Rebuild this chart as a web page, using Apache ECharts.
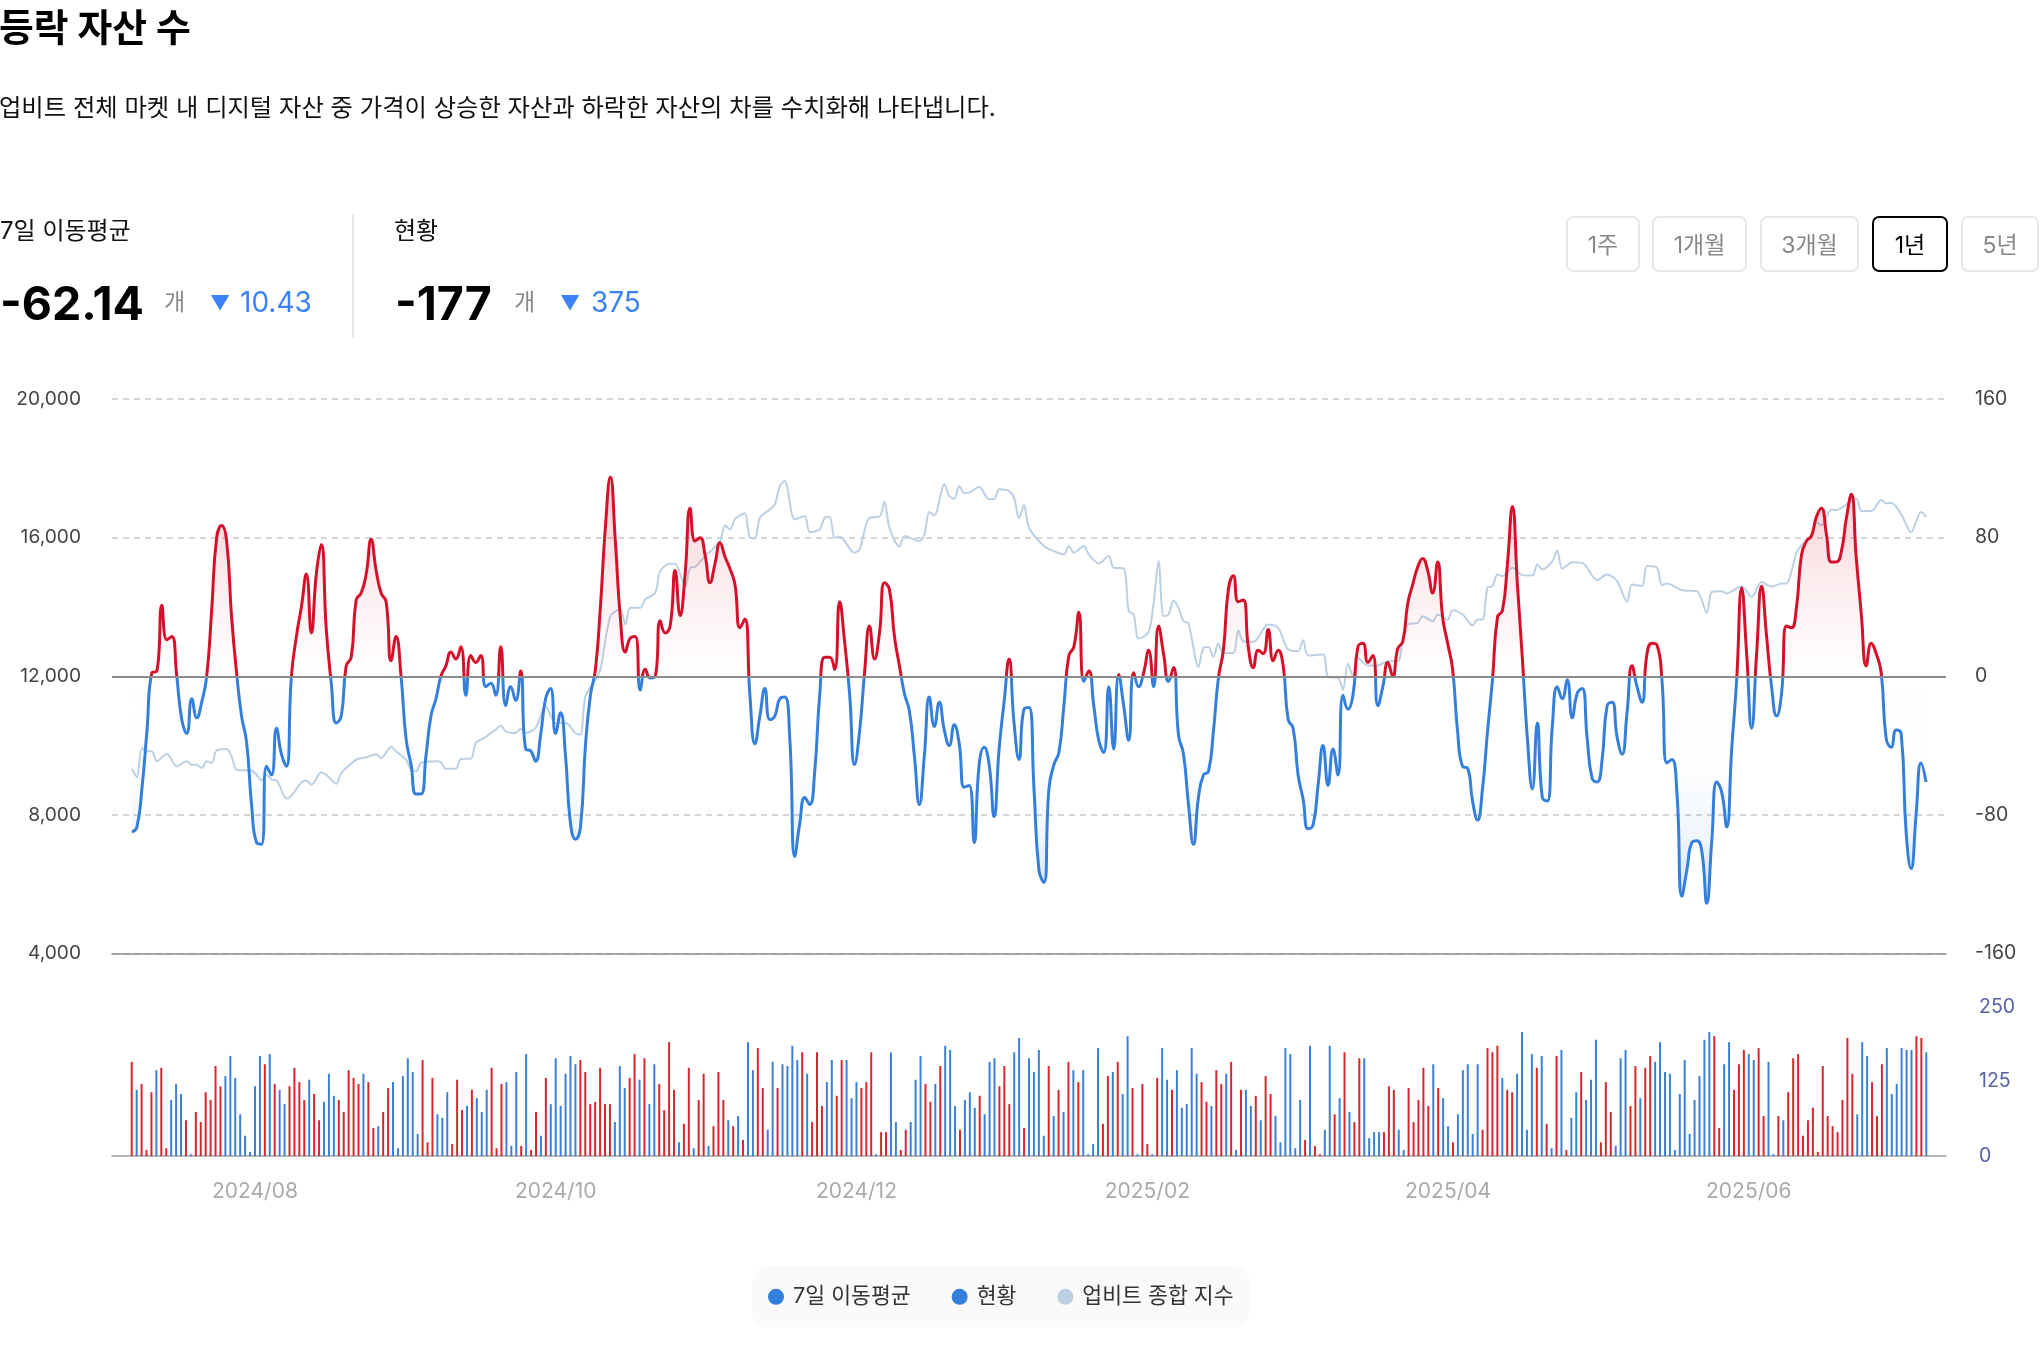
<!DOCTYPE html>
<html>
<head lang="ko">
    <meta charset="UTF-8">
    <title>등락 자산 수</title>
    <script src="https://cdn.jsdelivr.net/npm/echarts@6/dist/echarts.min.js"></script>
    <style>
        html, body { margin: 0; padding: 0; background: #fff; width: 2040px; height: 1358px; overflow: hidden; }
        body { font-family: Inter, "Noto Sans CJK KR", sans-serif; color: #000; position: relative; }
        #chart { position: absolute; left: 0; top: 0; width: 2040px; height: 1358px; }
        .t { position: absolute; white-space: nowrap; line-height: 1; z-index: 2; }
        #title { left: -1px; top: 9px; font-size: 37.8px; font-weight: 700; }
        #desc { left: -1px; top: 95px; font-size: 24.3px; color: #111; }
        .label { top: 219px; font-size: 24px; color: #111; }
        .big { top: 280px; font-size: 46.5px; font-weight: 700; }
        .unit { top: 291px; font-size: 23px; color: #888; }
        .tri { top: 293px; font-size: 20px; color: #3b82f6; }
        .diff { top: 288px; font-size: 28px; color: #3b82f6; }
        #divider { position: absolute; left: 352px; top: 214px; width: 2px; height: 124px; background: #e6e6e6; }
        .btn { position: absolute; top: 216px; height: 56px; box-sizing: border-box; border: 2px solid #e8e8e8; border-radius: 7px; padding-bottom: 3px;
               font-size: 23px; color: #888; display: flex; align-items: center; justify-content: center; z-index: 2; }
        .btn.on { border-color: #000; color: #000; }
    </style>
</head>
<body>
<div class="t" id="title">등락 자산 수</div>
<div class="t" id="desc">업비트 전체 마켓 내 디지털 자산 중 가격이 상승한 자산과 하락한 자산의 차를 수치화해 나타냅니다.</div>

<div class="t label" style="left:0">7일 이동평균</div>
<div class="t big" style="left:0">-62.14</div>
<div class="t unit" style="left:164px">개</div>
<div class="t tri" style="left:210px">▼</div>
<div class="t diff" style="left:240px">10.43</div>
<div id="divider"></div>
<div class="t label" style="left:394px">현황</div>
<div class="t big" style="left:395px">-177</div>
<div class="t unit" style="left:514px">개</div>
<div class="t tri" style="left:560px">▼</div>
<div class="t diff" style="left:591px">375</div>

<div class="btn" style="left:1566px;width:74px">1주</div>
<div class="btn" style="left:1652px;width:95px">1개월</div>
<div class="btn" style="left:1760px;width:99px">3개월</div>
<div class="btn on" style="left:1872px;width:76px">1년</div>
<div class="btn" style="left:1961px;width:78px">5년</div>

<div id="chart"></div>

<script type="text/javascript">
    var seriesNames = ['7일 이동평균', '현황', '업비트 종합 지수'];

    // 7일 이동평균 at even steps along the year (right axis)
    var avgValues = [
        -90,-87,-65,-32,2,3,41,21,23,0,
        -25,-33,-13,-24,-15,0,38,80,87,78,
        34,2,-23,-38,-74,-96,-97,-52,-57,-30,
        -45,-52,0,23,40,59,25,59,76,27,
        -4,-27,-23,6,11,44,48,59,79,61,
        48,43,9,23,0,-36,-51,-68,-68,-46,
        -23,-13,0,6,14,10,17,-11,12,8,
        12,-6,-4,-11,17,-17,-6,-14,3,-42,
        -43,-49,-34,-13,-7,-33,-21,-46,-85,-94,
        -87,-40,-11,4,40,86,115,78,34,14,
        22,23,-8,4,-1,0,32,25,29,61,
        35,59,97,78,80,70,54,65,77,69,
        62,53,28,33,-11,-39,-23,-7,-25,-23,
        -13,-12,-36,-104,-85,-70,-74,-55,-11,11,
        11,4,43,20,-10,-51,-32,2,29,10,
        25,54,50,23,6,-10,-20,-46,-74,-46,
        -12,-29,-15,-31,-40,-28,-39,-64,-63,-96,
        -51,-41,-51,-81,-42,-15,10,-27,-48,-19,
        -18,-65,-112,-119,-65,-51,-44,-17,12,17,
        37,-3,3,-17,-37,-44,-6,-42,1,-17,
        -37,2,-6,2,15,-6,29,13,-3,5,
        -34,-45,-74,-97,-70,-57,-55,-32,-1,15,
        50,58,43,44,17,5,15,13,27,9,
        15,6,-25,-30,-57,-71,-88,-86,-63,-40,
        -63,-42,-57,-11,-19,-11,17,19,8,12,
        -17,-6,8,0,16,20,42,53,63,68,
        61,48,66,34,19,4,-32,-52,-53,-72,
        -83,-65,-32,-2,34,38,65,98,53,10,
        -36,-65,-27,-70,-72,-29,-6,-13,-2,-24,
        -10,-7,-36,-59,-61,-48,-17,-15,-35,-45,
        -21,6,-6,-15,13,19,18,-2,-50,-48,
        -67,-127,-112,-96,-95,-101,-131,-95,-61,-67,
        -87,-42,-2,51,13,-30,13,52,23,-6,
        -23,-10,29,28,40,70,78,81,92,97,
        82,66,66,72,91,105,68,36,6,19,
        13,2,-36,-41,-31,-33,-90,-111,-80,-50,
        -61
    ];

    // 현황, one bar per day: size is the bar height, sign is the colour (+ red, - blue)
    var barValues = [
        158,-111,121,10,107,-144,148,13,-94,-121,-104,60,-3,74,57,107,94,151,117,-134,
        -168,-131,-70,-34,-7,-117,-168,154,-171,121,-111,-87,117,148,124,94,-128,104,60,-91,
        -138,-101,94,74,144,131,121,-138,124,47,-50,74,114,-124,-13,-134,-164,-141,-37,161,
        23,131,-70,-64,-107,20,128,77,-84,111,-97,-74,-111,148,13,121,-124,-17,-141,17,
        -171,10,74,-34,131,-87,-164,-84,-138,-168,-154,161,141,87,91,148,87,87,-57,-151,
        -114,131,171,-128,164,-87,-154,121,77,191,111,-23,54,148,-13,94,138,-17,50,141,
        94,-60,50,-67,27,-191,-144,181,114,-44,-158,114,
        -154,-151,-185,-161,174,-138,57,174,84,-124,-161,101,161,-161,-97,-124,114,124,174,-3,
        40,40,-174,-57,10,44,-57,-128,-168,121,91,-121,151,-185,-178,-84,44,-94,-107,-81,
        101,-70,-158,-164,117,151,87,-174,-198,47,-164,-141,-178,-34,151,-67,111,-74,158,-144,
        124,-144,-3,-20,-181,54,134,-141,158,-104,-201,114,-3,121,20,-3,131,-181,-128,111,
        -144,-81,-87,-181,-138,124,91,-84,144,121,-138,158,-10,111,-111,-84,101,-60,134,104,
        -67,-23,-181,-171,-13,-94,27,-185,17,3,-44,-185,70,-97,174,-74,57,
        164,-164,-30,-40,-40,40,117,111,-44,-10,114,57,94,148,84,-154,114,-97,-50,23,
        -70,-144,-154,-37,-154,44,181,174,185,-131,111,107,-138,-208,-44,-171,148,-168,54,-13,
        168,-178,10,-64,-107,141,-94,-128,-195,23,124,74,-17,-164,-178,84,151,-97,148,168,
        -158,-191,-141,-138,-10,-104,-161,-37,-94,-134,-195,-208,201,47,-154,-191,111,154,178,-171,
        -161,181,67,-158,-3,67,-60,107,164,171,34,60,81,7,151,67,50,40,94,198,
        138,-70,-191,-168,124,67,154,-181,-104,-121,-181,-178,-178,201,198,-174
    ];

    // 업비트 종합 지수, read at the steps in indexDays (left axis)
    var indexDays = [
        0,1,2,3,4,5,7,9,11,12,13,14,15,16,17,19,20,21,24,25,26,27,28,29,31,32,34,35,36,38,39,41,42,45,46,47,49,50,52,53,55,56,57,58,
        61,62,63,65,66,68,69,71,72,73,74,75,77,78,79,81,83,85,87,89,90,91,93,94,96,98,99,100,102,103,105,106,108,109,111,112,113,115,
        118,119,120,121,122,123,124,125,126,128,129,130,131,133,135,136,138,139,140,141,142,145,146,148,150,151,152,154,155,158,159,160,161,
        163,164,165,166,167,168,170,172,173,174,176,177,178,179,180,183,185,187,188,189,191,192,194,196,197,199,200,201,202,204,205,206,207,
        208,209,210,211,212,214,215,216,217,218,219,221,222,223,225,228,230,232,234,235,236,239,240,242,243,244,245,246,248,250,252,254,255,
        256,258,259,261,262,264,265,267,269,270,271,272,273,274,275,277,279,281,282,283,285,286,287,289,291,294,296,298,300,301,303,304,306,
        307,308,311,314,316,317,319,320,323,325,327,329,331,332,333,334,335,337,338,339,341,342,346,347,349,351,352,353,355,357,359,360
    ];
    var indexValues = [
        9323,9092,9930,9833,9833,9544,9766,9400,9544,9448,9448,9352,9544,9496,9862,9901,9689,9304,9275,9159,8995,9159,9015,8995,8475,8552,8938,8995,8870,9227,9159,8899,9207,9593,9641,9660,9747,9641,9958,9833,9593,9304,9255,9496,
        9544,9515,9333,9333,9612,9621,10074,10247,10363,10459,10575,10411,10363,10488,10363,10507,11133,10652,10652,10363,10315,11422,11904,12193,13733,13926,13493,13974,13974,14215,14408,15033,15245,15245,14571,15130,15159,15467,
        15900,16353,16237,16545,16642,16700,15996,15977,16574,16815,16959,17489,17633,16526,16622,16160,16237,16574,16603,15996,16025,15563,15659,16574,16603,17036,16285,15736,16045,15900,16093,16738,16642,
        17537,17200,17123,17489,17277,17297,17460,17104,17104,17393,17345,17152,16555,16940,16285,15756,15611,15515,15756,15563,15756,15515,15255,15467,15130,15110,13878,13781,13088,13271,14119,15322,13733,
        13781,14186,13974,13589,13522,12270,12819,12847,12559,12944,12674,12674,13329,13011,12992,13493,13396,12770,12722,13040,12597,12626,11981,11952,11615,12366,12000,12530,12308,12308,12433,12433,13059,
        13493,13541,13733,13589,13781,13637,13907,13781,13464,13637,13637,14552,14600,14937,14889,15130,14918,14908,15226,15082,15322,15630,15101,15293,15274,14773,14937,14745,14147,14648,14600,15178,15130,
        14629,14677,14485,14456,13830,14436,14456,14388,14600,14292,14716,14581,14677,14677,15033,15563,15775,16045,16430,16353,16815,16796,17123,16767,16767,17085,16988,17008,16671,16160,16738,16603
    ];

    // ticks sit on the daily bar axis
    var tickDays = [25, 86, 147, 206, 267, 328];
    var tickLabels = ['2024/08', '2024/10', '2024/12', '2025/02', '2025/04', '2025/06'];

    var RED = '#d5102a', BLUE = '#357fdc', BAR_RED = '#d9262e', BAR_BLUE = '#3b80d6', INDEX = '#bcd0e3';
    var FONT = 'Inter, "Noto Sans CJK KR", sans-serif';

    var myChart = echarts.init(document.getElementById('chart'));

    // where zero falls inside the line's bounding box, for the hard red/blue colour change
    var avgMax = Math.max.apply(null, avgValues), avgMin = Math.min.apply(null, avgValues);
    var zeroAt = avgMax / (avgMax - avgMin);
    var below = 1 - zeroAt;

    myChart.setOption({
        animation: false,
        textStyle: { fontFamily: FONT },
        legend: {
            data: seriesNames,
            left: 752, top: 1266,
            padding: [20, 16, 20, 16],
            backgroundColor: '#fafafa',
            borderRadius: 16,
            icon: 'circle',
            itemWidth: 16, itemHeight: 16, itemGap: 41,
            textStyle: { fontSize: 21.6, color: '#333', fontFamily: FONT, padding: [2, 0, 0, 4] }
        },
        grid: [
            { left: 112, width: 1834, top: 399, height: 554.5 },
            { left: 112, width: 1834, top: 1007, height: 149 }
        ],
        xAxis: [
            { type: 'value', gridIndex: 0, min: -4, max: avgValues.length + 3, splitLine: { show: false }, axisTick: { show: false }, axisLabel: { show: false },
              axisLine: { show: true, onZero: false, lineStyle: { color: '#8c8c8c', width: 1.5 } } },
            { type: 'value', gridIndex: 1, min: -4, max: barValues.length + 3, splitLine: { show: false }, axisTick: { show: false },
              axisLine: { show: true, onZero: false, lineStyle: { color: '#a0a0a0', width: 1.5 } },
              axisLabel: { customValues: tickDays, margin: 25, fontSize: 21, color: '#aaa', fontFamily: FONT,
                           formatter: function (v) { return tickLabels[tickDays.indexOf(v)]; } } }
        ],
        yAxis: [
            { type: 'value', gridIndex: 0, position: 'left', min: 4000, max: 20000, interval: 4000,
              axisLine: { show: false }, axisTick: { show: false },
              axisLabel: { margin: 31, fontSize: 19.2, color: '#444', fontFamily: FONT, padding: [6, 0, 0, 0] },
              splitLine: { lineStyle: { color: '#c8c8c8', type: [6, 5], width: 1.5 } } },
            { type: 'value', gridIndex: 0, position: 'right', min: -160, max: 160, interval: 80,
              axisLine: { show: false }, axisTick: { show: false }, splitLine: { show: false },
              axisLabel: { margin: 29, fontSize: 19.5, color: '#444', fontFamily: FONT, padding: [6, 0, 0, 0] } },
            { type: 'value', gridIndex: 1, position: 'right', min: 0, max: 250, interval: 125,
              axisLine: { show: false }, axisTick: { show: false }, splitLine: { show: false },
              axisLabel: { margin: 33, fontSize: 19.5, color: '#5560a8', fontFamily: FONT, padding: [3, 0, 0, 0] } }
        ],
        series: [
            {
                name: seriesNames[0], type: 'line', xAxisIndex: 0, yAxisIndex: 1, z: 4,
                data: avgValues.map(function (v, i) { return [i, v]; }),
                smooth: 0.5, symbol: 'none',
                itemStyle: { color: BLUE },
                lineStyle: {
                    width: 3,
                    color: new echarts.graphic.LinearGradient(0, 0, 0, 1, [
                        { offset: 0, color: RED },
                        { offset: zeroAt, color: RED },
                        { offset: zeroAt, color: BLUE },
                        { offset: 1, color: BLUE }
                    ])
                },
                areaStyle: {
                    color: new echarts.graphic.LinearGradient(0, 0, 0, 1, [
                        { offset: 0, color: 'rgba(213,16,42,0.3)' },
                        { offset: zeroAt * 0.55, color: 'rgba(213,16,42,0.1)' },
                        { offset: zeroAt, color: 'rgba(213,16,42,0)' },
                        { offset: zeroAt, color: 'rgba(53,127,220,0)' },
                        { offset: zeroAt + below * 0.4, color: 'rgba(53,127,220,0.02)' },
                        { offset: zeroAt + below * 0.7, color: 'rgba(53,127,220,0.1)' },
                        { offset: 1, color: 'rgba(53,127,220,0.34)' }
                    ])
                },
                markLine: {
                    silent: true, symbol: 'none', label: { show: false },
                    lineStyle: { color: '#8c8c8c', type: 'solid', width: 2 },
                    data: [{ yAxis: 0 }]
                }
            },
            {
                name: seriesNames[1], type: 'bar', xAxisIndex: 1, yAxisIndex: 2,
                barWidth: 2,
                itemStyle: { color: BLUE },
                data: barValues.map(function (v, i) {
                    return { value: [i, Math.abs(v)], itemStyle: { color: v > 0 ? BAR_RED : BAR_BLUE } };
                })
            },
            {
                name: seriesNames[2], type: 'line', xAxisIndex: 0, yAxisIndex: 0, z: 3,
                data: indexDays.map(function (d, i) { return [d, indexValues[i]]; }),
                smooth: 0.3, symbol: 'none',
                itemStyle: { color: INDEX },
                lineStyle: { width: 2, color: INDEX }
            }
        ]
    });
</script>
</body>
</html>
